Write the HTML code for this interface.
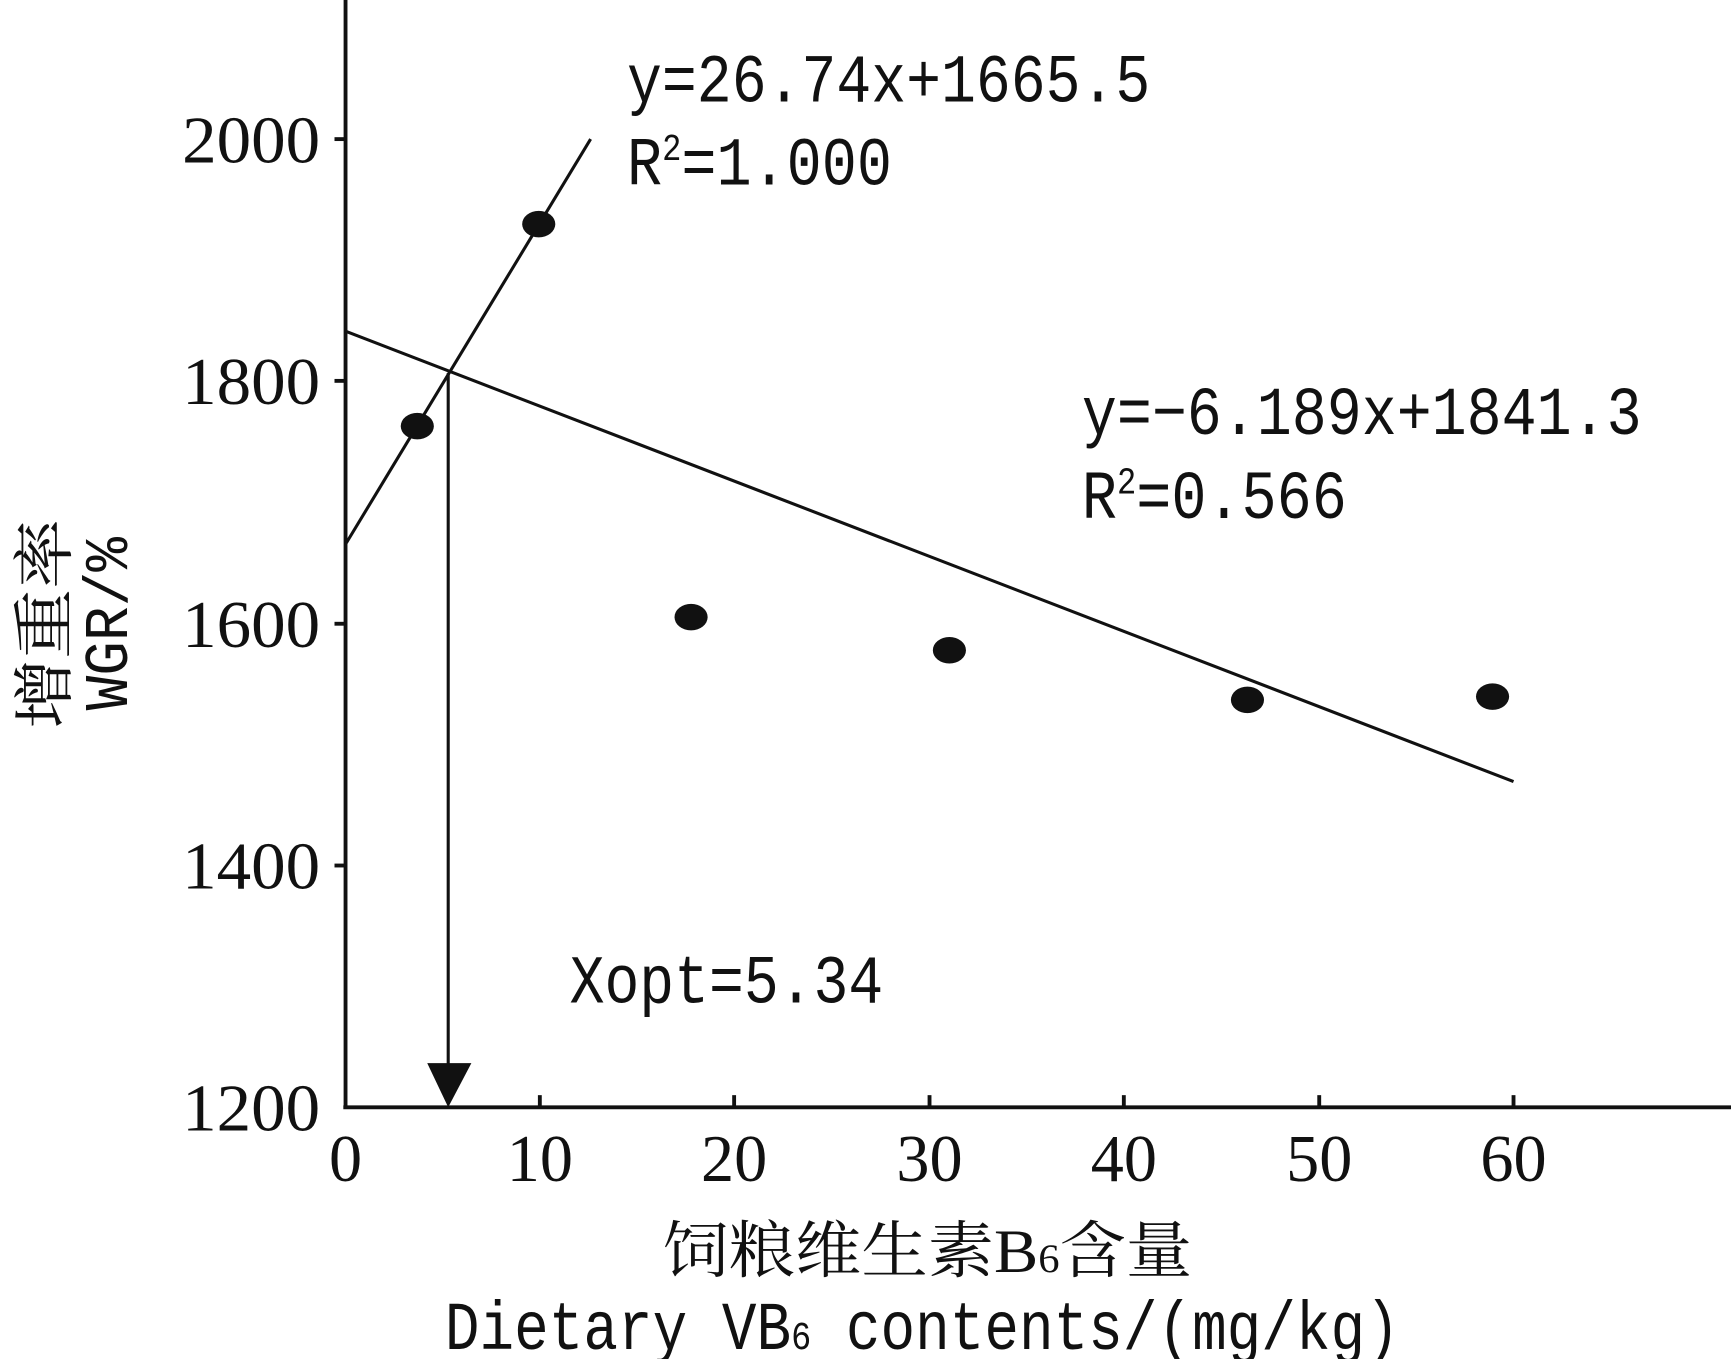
<!DOCTYPE html>
<html><head><meta charset="utf-8"><style>html,body{margin:0;padding:0;background:#fff}svg{display:block}</style></head>
<body>
<svg width="1731" height="1359" viewBox="0 0 1568 1231" preserveAspectRatio="none" xmlns="http://www.w3.org/2000/svg">
<rect width="1568" height="1231" fill="#fff"/>
<g stroke="#111" stroke-width="3.5" fill="none">
<line x1="313" y1="0" x2="313" y2="1004"/>
<line x1="311" y1="1003" x2="1568" y2="1003"/>
<line x1="303" y1="126" x2="313" y2="126"/>
<line x1="303" y1="345" x2="313" y2="345"/>
<line x1="303" y1="565" x2="313" y2="565"/>
<line x1="303" y1="784" x2="313" y2="784"/>
<line x1="489" y1="992" x2="489" y2="1003"/>
<line x1="665" y1="992" x2="665" y2="1003"/>
<line x1="842" y1="992" x2="842" y2="1003"/>
<line x1="1018" y1="992" x2="1018" y2="1003"/>
<line x1="1195" y1="992" x2="1195" y2="1003"/>
<line x1="1371" y1="992" x2="1371" y2="1003"/>
</g>
<g stroke="#111" stroke-width="2.8" fill="none">
<line x1="313" y1="493" x2="535" y2="126"/>
<line x1="313" y1="300" x2="1371" y2="708"/>
<line x1="406" y1="338" x2="406" y2="970"/>
</g>
<polygon points="387,963 427,963 406,1003" fill="#111"/>
<g fill="#111">
<ellipse cx="378" cy="386" rx="15" ry="12"/>
<ellipse cx="488" cy="203" rx="15" ry="12"/>
<ellipse cx="626" cy="559" rx="15" ry="12"/>
<ellipse cx="860" cy="589" rx="15" ry="12"/>
<ellipse cx="1130" cy="634" rx="15" ry="12"/>
<ellipse cx="1352" cy="631" rx="15" ry="12"/>
</g>
<g font-family="Liberation Serif, serif" font-size="60" fill="#111">
<text x="165" y="147" textLength="125" lengthAdjust="spacingAndGlyphs">2000</text>
<text x="165" y="366" textLength="125" lengthAdjust="spacingAndGlyphs">1800</text>
<text x="165" y="586" textLength="125" lengthAdjust="spacingAndGlyphs">1600</text>
<text x="165" y="805" textLength="125" lengthAdjust="spacingAndGlyphs">1400</text>
<text x="165" y="1024" textLength="125" lengthAdjust="spacingAndGlyphs">1200</text>
<g text-anchor="middle">
<text x="313" y="1070">0</text>
<text x="489" y="1070">10</text>
<text x="665" y="1070">20</text>
<text x="842" y="1070">30</text>
<text x="1018" y="1070">40</text>
<text x="1195" y="1070">50</text>
<text x="1371" y="1070">60</text>
</g>
</g>
<g font-family="Liberation Mono, monospace" font-size="62" fill="#111">
<text x="568" y="92" textLength="474" lengthAdjust="spacingAndGlyphs">y=26.74x+1665.5</text>
<text x="568" y="167" textLength="240" lengthAdjust="spacingAndGlyphs">R<tspan font-size="34" dy="-22">2</tspan><tspan dy="22">=1.000</tspan></text>
<text x="980" y="393" textLength="507" lengthAdjust="spacingAndGlyphs">y=−6.189x+1841.3</text>
<text x="980" y="469" textLength="240" lengthAdjust="spacingAndGlyphs">R<tspan font-size="34" dy="-22">2</tspan><tspan dy="22">=0.566</tspan></text>
<text x="516" y="908" textLength="284" lengthAdjust="spacingAndGlyphs">Xopt=5.34</text>
<text x="403" y="1222" textLength="865" lengthAdjust="spacingAndGlyphs">Dietary VB<tspan font-size="36">6</tspan> contents/(mg/kg)</text>
</g>
<g font-family="Liberation Serif, 'Noto Serif CJK SC', serif" font-size="56" fill="#111">
<text x="840" y="1152" text-anchor="middle" textLength="480" lengthAdjust="spacingAndGlyphs">饲粮维生素B<tspan font-size="36">6</tspan>含量</text>
<text transform="translate(60,565) rotate(-90)" text-anchor="middle" textLength="190" lengthAdjust="spacingAndGlyphs">增重率</text>
<text transform="translate(115,565) rotate(-90)" text-anchor="middle" font-family="Liberation Mono, monospace" textLength="157" lengthAdjust="spacingAndGlyphs">WGR/%</text>
</g>
</svg>
</body></html>
